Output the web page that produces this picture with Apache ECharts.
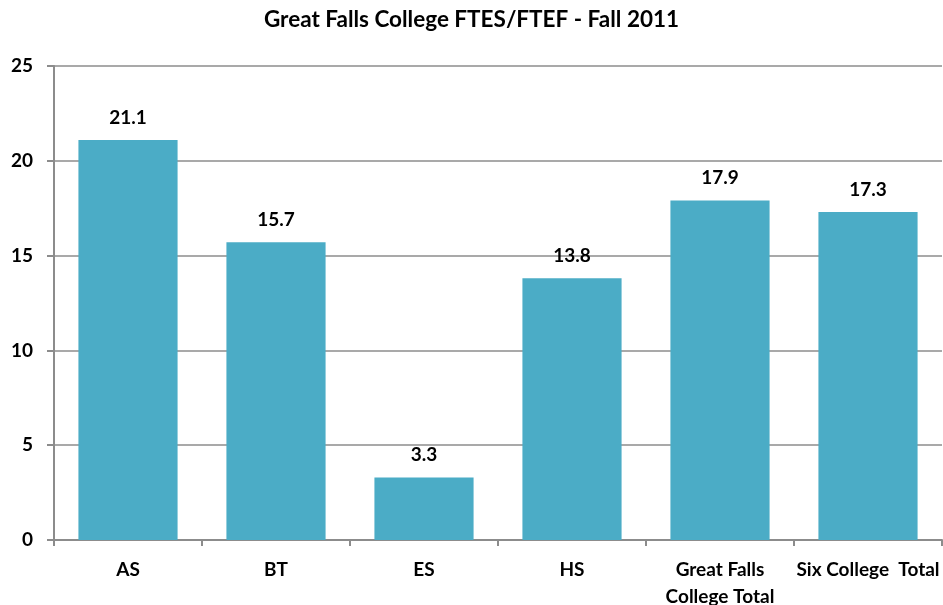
<!DOCTYPE html>
<html>
<head>
<meta charset="utf-8">
<script src="https://cdn.jsdelivr.net/npm/echarts@6/dist/echarts.min.js"></script>
<style>
  html, body { margin: 0; padding: 0; background: #fff; }
  #chart { width: 943px; height: 605px; }
</style>
</head>
<body>
<div id="chart"></div>
<script>
const categories = ['AS', 'BT', 'ES', 'HS', 'Great Falls\nCollege Total', 'Six College  Total']
const values = [21.1, 15.7, 3.3, 13.8, 17.9, 17.3]
const yTicks = [0, 5, 10, 15, 20, 25]

const font = 'Lato, "Liberation Sans", sans-serif'
const chart = echarts.init(document.getElementById('chart'))

const option = {
  animation: false,
  title: {
    text: 'Great Falls College FTES/FTEF - Fall 2011',
    left: 'center',
    top: 3,
    textStyle: { fontFamily: font, fontSize: 22.5, fontWeight: 'bold', color: '#000' }
  },
  grid: { left: 54, right: 1, top: 66, bottom: 65, outerBoundsMode: 'none' },
  xAxis: {
    type: 'category',
    data: categories,
    axisLine: { lineStyle: { color: '#8c8c8c', width: 2 } },
    axisTick: { show: true, length: 6, lineStyle: { color: '#8c8c8c', width: 2 } },
    axisLabel: {
      interval: 0,
      margin: 16,
      fontFamily: font, fontSize: 19, fontWeight: 'bold', color: '#000', lineHeight: 27
    }
  },
  yAxis: {
    type: 'value',
    min: yTicks[0],
    max: yTicks[yTicks.length - 1],
    interval: 5,
    axisLine: { show: true, lineStyle: { color: '#8c8c8c', width: 2 } },
    axisTick: { show: true, length: 7, lineStyle: { color: '#8c8c8c', width: 2 } },
    splitLine: { lineStyle: { color: '#8c8c8c', width: 1.5 } },
    axisLabel: { margin: 21, fontFamily: font, fontSize: 19, fontWeight: 'bold', color: '#000' }
  },
  series: [
    {
      type: 'bar',
      data: values,
      barWidth: '67%',
      itemStyle: { color: '#4BACC6' },
      label: {
        show: true,
        position: 'top',
        distance: 13,
        formatter: p => p.value.toFixed(1),
        fontFamily: font, fontSize: 19, fontWeight: 'bold', color: '#000'
      }
    }
  ]
}
chart.setOption(option)
</script>
</body>
</html>
